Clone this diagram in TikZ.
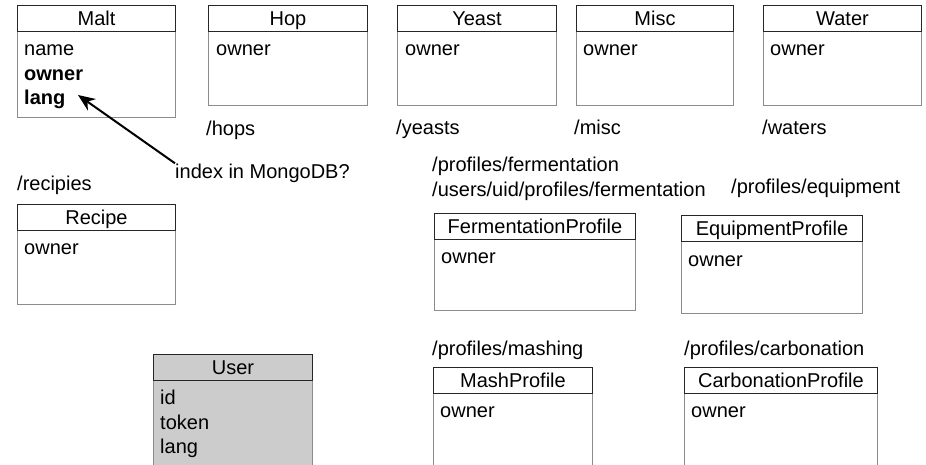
\documentclass[tikz,border=0pt]{standalone}
\usepackage{fontspec}
\setmainfont{Liberation Sans}
\usetikzlibrary{arrows.meta}
\newcommand\fs{\fontsize{20pt}{24pt}\selectfont}
\definecolor{usergray}{HTML}{CCCCCC}
\tikzset{
  hdr/.style={draw=black!85, line width=1pt, minimum height=26pt, inner sep=0pt, text height=16.5pt, text depth=2.5pt, anchor=north west, font=\fs},
  bdy/.style={draw=black!45, line width=1pt, anchor=north west, inner sep=0pt},
  fld/.style={anchor=base west, inner sep=0pt, font=\fs},
  lbl/.style={anchor=base west, inner sep=0pt, font=\fs},
}
% id, x, ytop, width, body height, title, fill
\newcommand\umlbox[7]{%
  \node[bdy, minimum width=#4pt, minimum height=#5pt, fill=#7] (#1-body) at (#2,#3+26) {};
  \node[hdr, minimum width=#4pt, fill=#7] (#1) at (#2,#3) {#6};
}
\begin{document}
\begin{tikzpicture}[x=1pt,y=-1pt]
\path[use as bounding box, fill=white] (0,0) rectangle (926,464);

% top row
\umlbox{malt}{17}{5}{158}{86}{Malt}{white}
\node[fld] (malt-name) at (24,55) {name};
\node[fld] (malt-owner) at (24,80) {\bfseries owner};
\node[fld] (malt-lang) at (24,104) {\bfseries lang};

\umlbox{hop}{208}{5}{159}{74}{Hop}{white}
\node[fld] (hop-owner) at (216,55) {owner};
\node[lbl] (hop-url) at (206,135) {/hops};

\umlbox{yeast}{397}{5}{159}{74}{Yeast}{white}
\node[fld] (yeast-owner) at (405,55) {owner};
\node[lbl] (yeast-url) at (396,134) {/yeasts};

\umlbox{misc}{576}{5}{157}{74}{Misc}{white}
\node[fld] (misc-owner) at (583,55) {owner};
\node[lbl] (misc-url) at (574,134) {/misc};

\umlbox{water}{763}{5}{158}{74}{Water}{white}
\node[fld] (water-owner) at (770,55) {owner};
\node[lbl] (water-url) at (762,134) {/waters};

% recipe
\node[lbl] (recipe-url) at (17,190) {/recipies};
\umlbox{recipe}{17}{204}{158}{74}{Recipe}{white}
\node[fld] (recipe-owner) at (24,254) {owner};

% annotation
\node[lbl] (idx) at (175,178) {index in MongoDB?};
\coordinate (tip) at (78,95);
\draw[line width=2pt, -{Stealth[length=17pt, width=14pt]}] (idx.north west) -- (tip);

% profiles
\node[lbl] (ferm-url1) at (432,171) {/profiles/fermentation};
\node[lbl] (ferm-url2) at (432,196) {/users/uid/profiles/fermentation};
\umlbox{ferm}{434}{213}{201}{71}{FermentationProfile}{white}
\node[fld] (ferm-owner) at (441,263) {owner};

\node[lbl] (equip-url) at (731,193) {/profiles/equipment};
\umlbox{equip}{681}{215}{181}{72}{EquipmentProfile}{white}
\node[fld] (equip-owner) at (688,266) {owner};

\node[lbl] (mash-url) at (432,355) {/profiles/mashing};
\umlbox{mash}{433}{367}{159}{120}{MashProfile}{white}
\node[fld] (mash-owner) at (440,417) {owner};

\node[lbl] (carb-url) at (684,355) {/profiles/carbonation};
\umlbox{carb}{684}{367}{193}{120}{CarbonationProfile}{white}
\node[fld] (carb-owner) at (691,417) {owner};

% user
\umlbox{user}{153}{354}{159}{120}{User}{usergray}
\node[fld] (user-id) at (160,404) {id};
\node[fld] (user-token) at (160,429) {token};
\node[fld] (user-lang) at (160,453) {lang};
\end{tikzpicture}
\end{document}
